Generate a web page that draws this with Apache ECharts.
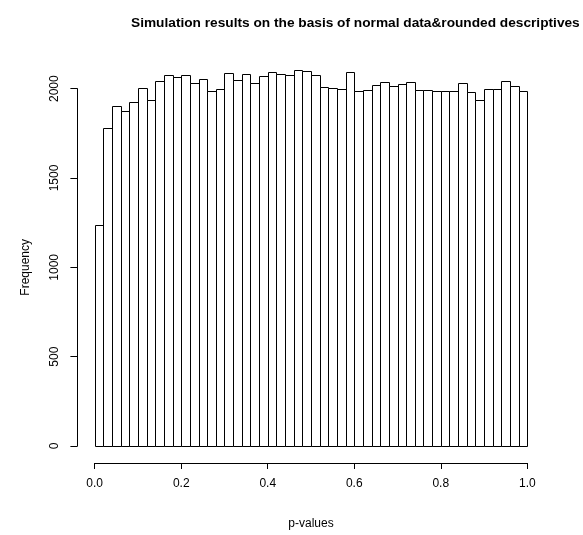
<!DOCTYPE html>
<html>
<head>
<meta charset="utf-8">
<script src="https://cdn.jsdelivr.net/npm/echarts@6/dist/echarts.min.js"></script>
<style>
html,body{margin:0;padding:0;background:#fff;}
#chart{width:583px;height:535px;}
</style>
</head>
<body>
<div id="chart"></div>
<script>
// Histogram of simulated p-values: 50 bins of width 0.02 on [0, 1]
var binStarts = [0.00,0.02,0.04,0.06,0.08,0.10,0.12,0.14,0.16,0.18,
                 0.20,0.22,0.24,0.26,0.28,0.30,0.32,0.34,0.36,0.38,
                 0.40,0.42,0.44,0.46,0.48,0.50,0.52,0.54,0.56,0.58,
                 0.60,0.62,0.64,0.66,0.68,0.70,0.72,0.74,0.76,0.78,
                 0.80,0.82,0.84,0.86,0.88,0.90,0.92,0.94,0.96,0.98];
var binWidth = 0.02;
var counts = [1237,1781,1905,1876,1923,2003,1934,2044,2076,2066,
              2076,2031,2052,1985,2001,2089,2049,2085,2033,2069,
              2093,2084,2076,2107,2099,2076,2007,2003,2001,2094,
              1987,1991,2022,2038,2014,2027,2038,1992,1992,1985,
              1985,1987,2031,1983,1938,1996,1996,2045,2014,1987];
var xTickLabels = ['0.0','0.2','0.4','0.6','0.8','1.0'];
var yTickLabels = ['0','500','1000','1500','2000'];
var titleText = 'Simulation results on the basis of normal data&rounded descriptives';
var xName = 'p-values';
var yName = 'Frequency';

var FONT = '"Liberation Sans", Arial, sans-serif';
var data = binStarts.map(function (s, i) { return [s, s + binWidth, counts[i]]; });

var chart = echarts.init(document.getElementById('chart'), null, {renderer: 'canvas'});
chart.setOption({
  backgroundColor: '#ffffff',
  animation: false,
  title: {
    text: titleText,
    left: 126, top: 11,
    textStyle: {fontFamily: FONT, fontSize: 13.7, fontWeight: 'bold', color: '#000'}
  },
  grid: {left: 94.7, right: 55.7, top: 88.7, bottom: 80.7, containLabel: false},
  xAxis: {
    type: 'value', min: 0, max: 1, interval: 0.2,
    offset: 17,
    name: xName, nameLocation: 'middle', nameGap: 55,
    nameTextStyle: {fontFamily: FONT, fontSize: 12, color: '#000'},
    axisLine: {show: true, onZero: false, lineStyle: {color: '#000', width: 1}},
    axisTick: {show: true, length: 6, lineStyle: {color: '#000'}},
    axisLabel: {fontFamily: FONT, fontSize: 12, color: '#000', margin: 15,
      formatter: function (v) { return xTickLabels[Math.round(v / 0.2)]; }},
    splitLine: {show: false}
  },
  yAxis: {
    type: 'value', min: 0, max: 2000, interval: 500,
    offset: 17.3,
    name: yName, nameLocation: 'middle', nameGap: 46, nameRotate: 90,
    nameTextStyle: {fontFamily: FONT, fontSize: 12, color: '#000'},
    axisLine: {show: true, onZero: false, lineStyle: {color: '#000', width: 1}},
    axisTick: {show: true, length: 7, lineStyle: {color: '#000'}},
    axisLabel: {fontFamily: FONT, fontSize: 12, color: '#000', margin: 17, rotate: 90,
      formatter: function (v) { return yTickLabels[Math.round(v / 500)]; }},
    splitLine: {show: false}
  },
  series: [{
    type: 'custom',
    clip: false,
    data: data,
    encode: {x: [0, 1], y: 2},
    renderItem: function (params, api) {
      var p0 = api.coord([api.value(0), 0]);
      var p1 = api.coord([api.value(1), api.value(2)]);
      return {
        type: 'rect',
        shape: {x: Math.round(p0[0]) + 0.5, y: Math.round(p1[1]) + 0.5,
                width: Math.round(p1[0]) - Math.round(p0[0]),
                height: Math.round(p0[1]) - Math.round(p1[1])},
        style: {fill: '#fff', stroke: '#000', lineWidth: 1}
      };
    }
  }]
});
</script>
</body>
</html>
